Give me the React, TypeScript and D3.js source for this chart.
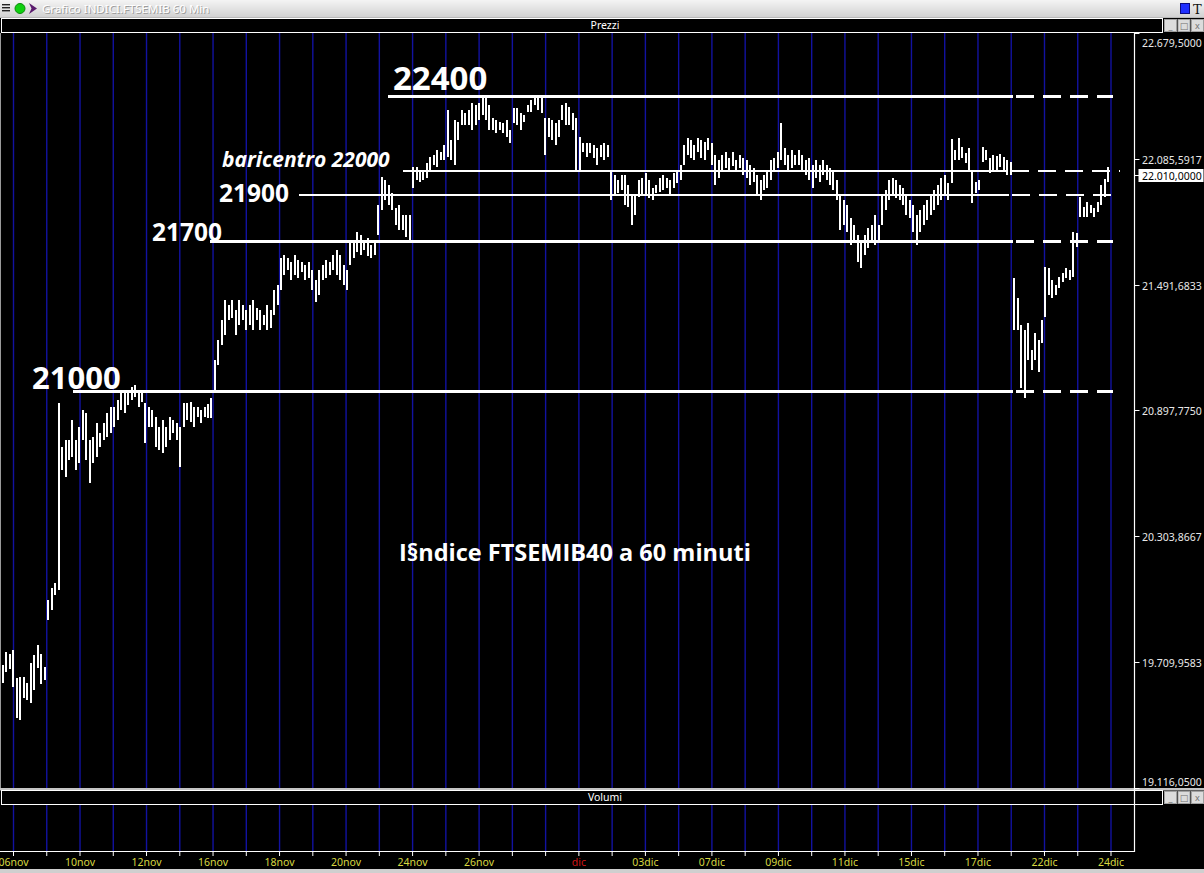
import { useEffect, useRef } from "react";
import * as d3 from "d3";

const W = 1204;
const H = 873;

// barre orarie: [massimo, minimo]
const bars: [number, number][] = [
  [19696, 19611], [19758, 19663], [19748, 19677], [19767, 19592], [19635, 19446], [19640, 19437], [19640, 19540], [19611, 19531],
  [19706, 19517], [19743, 19578], [19791, 19682], [19748, 19607], [19687, 19625], [20003, 19909], [20060, 19956], [20083, 20027],
  [20933, 20050],
  [20725, 20617], [20758, 20584], [20758, 20664], [20853, 20678], [20758, 20617], [20820, 20650], [20900, 20758], [20886, 20664],
  [20758, 20555], [20772, 20650], [20838, 20678], [20791, 20725], [20838, 20758], [20886, 20772], [20914, 20791], [20914, 20820],
  [20947, 20853], [20980, 20900], [20980, 20886], [20994, 20923], [21008, 20947], [21018, 20961], [20994, 20914], [20985, 20938],
  [20933, 20744], [20914, 20820], [20900, 20820], [20867, 20725], [20820, 20711], [20853, 20697], [20820, 20725], [20867, 20758],
  [20853, 20791], [20838, 20758], [20820, 20631], [20933, 20820], [20933, 20853], [20938, 20843], [20914, 20820], [20914, 20867],
  [20900, 20838], [20914, 20867], [20928, 20862], [20956, 20862], [21136, 20985],
  [21230, 21112], [21325, 21207], [21419, 21254], [21395, 21325], [21419, 21334], [21372, 21254], [21419, 21301], [21395, 21325],
  [21372, 21277], [21395, 21301], [21419, 21277], [21381, 21325], [21372, 21277], [21348, 21301], [21395, 21277], [21372, 21287],
  [21466, 21348], [21490, 21395], [21617, 21466], [21631, 21537], [21617, 21561], [21598, 21513], [21631, 21537], [21608, 21523],
  [21598, 21551], [21584, 21513], [21598, 21523], [21561, 21466], [21513, 21410], [21561, 21443], [21584, 21513], [21608, 21523],
  [21598, 21537], [21631, 21561], [21655, 21537], [21631, 21513], [21584, 21490], [21561, 21466], [21702, 21584], [21702, 21617],
  [21740, 21646], [21726, 21631], [21702, 21655], [21712, 21627], [21679, 21617], [21702, 21631], [21867, 21726],
  [22000, 21844], [21985, 21891], [21962, 21867], [21924, 21844], [21853, 21773], [21867, 21749], [21820, 21749], [21820, 21716],
  [21820, 21693], [22047, 21948], [22047, 21985], [22023, 21976], [22023, 21985], [22066, 21995], [22094, 22023], [22103, 22056],
  [22127, 22047], [22118, 22080], [22151, 22080], [22316, 22094], [22174, 22080], [22269, 22056], [22259, 22174],
  [22316, 22245], [22302, 22245], [22316, 22245], [22349, 22221], [22339, 22245], [22349, 22269], [22377, 22292], [22377, 22269],
  [22339, 22221], [22278, 22221], [22269, 22207],
  [22259, 22221], [22254, 22207], [22269, 22188], [22221, 22160], [22325, 22254], [22325, 22245], [22302, 22221], [22292, 22259],
  [22339, 22306], [22363, 22306], [22377, 22339], [22377, 22316], [22377, 22302], [22278, 22103], [22278, 22188], [22269, 22174],
  [22254, 22151], [22269, 22188], [22339, 22269], [22349, 22245], [22330, 22245], [22302, 22221], [22278, 22033], [22188, 22023],
  [22160, 22118],
  [22160, 22094], [22160, 22113], [22151, 22089], [22136, 22056], [22151, 22094], [22160, 22080], [22151, 22094], [22033, 21891],
  [22009, 21915], [21985, 21924], [22009, 21938], [22009, 21867], [21962, 21858], [21915, 21773], [21915, 21820], [21985, 21905],
  [21995, 21915], [22018, 21915], [21985, 21900], [21948, 21891], [21962, 21924], [21995, 21929], [22009, 21938], [21995, 21948],
  [21985, 21915], [22018, 21948], [22023, 21971], [22056, 21985], [22151, 22056],
  [22184, 22103], [22174, 22089], [22151, 22080], [22184, 22118], [22174, 22089], [22165, 22080], [22184, 22127], [22160, 22056],
  [22103, 21962], [22080, 21995], [22103, 22033], [22118, 22042], [22089, 22033], [22118, 22051], [22080, 22023], [22103, 22042],
  [22089, 22009], [22080, 21995], [22056, 21962], [22042, 21976], [22009, 21915], [21985, 21891], [22009, 21938], [22033, 21948],
  [22080, 21985], [22089, 22023], [22118, 22042], [22254, 22080], [22136, 22056], [22103, 22023], [22127, 22042], [22103, 22056],
  [22127, 22056], [22103, 22023], [22080, 22009], [22089, 21985], [22056, 21948], [22080, 21995], [22056, 21976], [22080, 22009],
  [22056, 21985], [22042, 21962], [22033, 21938], [21985, 21891], [21915, 21749], [21891, 21773], [21867, 21740], [21806, 21679],
  [21773, 21702], [21726, 21598], [21702, 21570], [21726, 21631], [21759, 21664], [21773, 21702], [21820, 21679], [21773, 21693],
  [21915, 21773], [21938, 21844], [21985, 21891], [21995, 21915], [21985, 21900], [21962, 21891], [21948, 21867], [21915, 21820],
  [21891, 21806], [21867, 21740], [21820, 21679], [21844, 21740], [21867, 21773], [21891, 21797], [21915, 21820], [21938, 21844],
  [21962, 21867], [21995, 21891], [22009, 21915], [21971, 21891], [22179, 21971], [22127, 22080], [22184, 22080], [22141, 22089],
  [22113, 22066], [22136, 22033], [22023, 21877], [21976, 21924], [21985, 21938], [22141, 22070], [22127, 22080], [22089, 22018],
  [22103, 22023], [22099, 22033], [22108, 22047], [22094, 22033], [22080, 22009], [22070, 22009],
  [21523, 21277], [21428, 21277], [21301, 21004], [21277, 20956], [21310, 21136], [21183, 21089], [21263, 21136], [21230, 21079],
  [21325, 21216], [21575, 21339], [21570, 21443], [21513, 21428], [21490, 21443], [21528, 21476], [21546, 21504], [21570, 21523],
  [21561, 21513], [21740, 21528], [21735, 21669], [21905, 21811], [21858, 21811], [21882, 21811], [21867, 21830], [21853, 21811],
  [21882, 21834], [21962, 21867], [21990, 21905], [22047, 21976],
];

const priceTicks = [22679.5, 22085.5917, 21491.6833, 20897.775, 20303.8667, 19709.9583, 19116.05];
const lastPrice = 22010;

const dayCount = 34;
const dayLabels: [number, string][] = [
  [0, "06nov"], [2, "10nov"], [4, "12nov"], [6, "16nov"], [8, "18nov"], [10, "20nov"], [12, "24nov"], [14, "26nov"],
  [17, "dic"], [19, "03dic"], [21, "07dic"], [23, "09dic"], [25, "11dic"], [27, "15dic"], [29, "17dic"], [31, "22dic"],
  [33, "24dic"],
];

// livelli tracciati a mano (prezzo, giorno di inizio, fine tratto pieno, fine tratteggio)
const levels = [
  { price: 22382, from: 11.25, solidTo: 30.05, to: 33.05, width: 3 },
  { price: 22028, from: 11.7, solidTo: 29.9, to: 33.26, width: 2.3 },
  { price: 21915, from: 8.57, solidTo: 29.92, to: 33.0, width: 2.6 },
  { price: 21700, from: 5.92, solidTo: 30.05, to: 33.05, width: 3 },
  { price: 20990, from: 1.8, solidTo: 30.05, to: 33.05, width: 3 },
];

const notes = [
  { text: "22400", x: 393, y: 90, size: 33, italic: false },
  { text: "baricentro 22000", x: 222, y: 167, size: 21, italic: true },
  { text: "21900", x: 219, y: 202, size: 24.5, italic: false },
  { text: "21700", x: 152, y: 241, size: 24.5, italic: false },
  { text: "21000", x: 32, y: 389, size: 31, italic: false },
  { text: "I§ndice FTSEMIB40 a 60 minuti", x: 399, y: 561, size: 23.5, italic: false },
];

const title = "Grafico INDICI.FTSEMIB 60 Min";

const itLocale = d3.formatLocale({ decimal: ",", thousands: ".", grouping: [3], currency: ["", "€"] });
const fmt = itLocale.format(",.4f");

export default function App() {
  const ref = useRef<SVGSVGElement>(null);

  useEffect(() => {
    document.body.style.margin = "0";
    const svg = d3.select(ref.current);
    if (!svg.node()) return;
    svg.selectAll("*").remove();

    const plotTop = 33;
    const plotBottom = 788;
    const axisX = 1134.5;
    const volTop = 805;
    const volBottom = 852;
    const ui = "Noto Sans, DejaVu Sans, sans-serif";

    const y = d3.scaleLinear().domain([priceTicks[priceTicks.length - 1], priceTicks[0]]).range([plotBottom, plotTop]);
    const x = d3.scaleLinear().domain([0, bars.length - 1]).range([3, 1108]);
    const xd = d3.scaleLinear().domain([0, dayCount - 1]).range([13.5, 1111]);

    const defs = svg.append("defs");
    const g = defs.append("linearGradient").attr("id", "tb").attr("x1", 0).attr("y1", 0).attr("x2", 0).attr("y2", 1);
    g.append("stop").attr("offset", 0).attr("stop-color", "#f4f4f4");
    g.append("stop").attr("offset", 1).attr("stop-color", "#d2d2d2");

    svg.append("rect").attr("width", W).attr("height", H).attr("fill", "#000");

    // barra del titolo
    svg.append("rect").attr("width", W).attr("height", 17).attr("fill", "url(#tb)");
    svg.append("rect").attr("y", 17).attr("width", W).attr("height", 1).attr("fill", "#b8b8b8");
    [4, 7, 10].forEach((yy) =>
      svg.append("rect").attr("x", 2).attr("y", yy).attr("width", 8).attr("height", 1.4).attr("fill", "#222"),
    );
    svg.append("circle").attr("cx", 20).attr("cy", 8.5).attr("r", 5).attr("fill", "#10d010").attr("stroke", "#0a8a0a");
    svg.append("path").attr("d", "M29,3 L37,8.5 L29,14 L31.5,8.5 Z").attr("fill", "#5b1c6e");
    svg.append("text").attr("x", 43).attr("y", 13.5).attr("font-family", ui).attr("font-size", 11.5)
      .attr("fill", "#9c9c9c").text(title);
    svg.append("text").attr("x", 42).attr("y", 12.5).attr("font-family", ui).attr("font-size", 11.5)
      .attr("fill", "#ffffff").text(title);
    svg.append("rect").attr("x", 1180.5).attr("y", 3.5).attr("width", 9).attr("height", 10).attr("fill", "#1f2fff").attr("stroke", "#0a0a80");
    svg.append("text").attr("x", 1193).attr("y", 14).attr("font-family", "DejaVu Serif, serif").attr("font-size", 13)
      .attr("fill", "#111").text("T");

    const panelHeader = (top: number, label: string) => {
      svg.append("rect").attr("x", 1.5).attr("y", top + 0.5).attr("width", 1161).attr("height", 14)
        .attr("fill", "#000").attr("stroke", "#fff");
      svg.append("text").attr("x", 605).attr("y", top + 11).attr("text-anchor", "middle")
        .attr("font-family", ui).attr("font-size", 10.5).attr("fill", "#fff").text(label);
      ["_", "□", "x"].forEach((s, i) => {
        const bx = 1164 + i * 13.5;
        svg.append("rect").attr("x", bx + 0.5).attr("y", top + 1.5).attr("width", 12).attr("height", 12)
          .attr("fill", "#dcdcdc").attr("stroke", "#a0a0a0");
        svg.append("text").attr("x", bx + 6.5).attr("y", top + 11).attr("text-anchor", "middle")
          .attr("font-family", ui).attr("font-size", 9).attr("fill", "#707070").text(s);
      });
    };
    panelHeader(18, "Prezzi");
    svg.append("rect").attr("y", 788).attr("width", W).attr("height", 2.5).attr("fill", "#c4c4c4");
    panelHeader(790, "Volumi");

    // linee verticali giornaliere
    const days = d3.range(dayCount);
    const grid = svg.append("g").attr("stroke", "#1212a0").attr("stroke-width", 1.4);
    grid.selectAll("line.p").data(days).join("line").attr("class", "p")
      .attr("x1", (d) => xd(d)).attr("x2", (d) => xd(d)).attr("y1", plotTop).attr("y2", plotBottom);
    grid.selectAll("line.v").data(days).join("line").attr("class", "v")
      .attr("x1", (d) => xd(d)).attr("x2", (d) => xd(d)).attr("y1", volTop).attr("y2", volBottom);

    svg.append("rect").attr("x", 0).attr("y", plotTop).attr("width", 1).attr("height", plotBottom - plotTop).attr("fill", "#9a9a9a");

    // livelli
    const lv = svg.append("g").attr("stroke", "#fff").attr("shape-rendering", "crispEdges");
    levels.forEach((l) => {
      const yy = Math.round(y(l.price));
      lv.append("line").attr("x1", xd(l.from)).attr("x2", xd(l.solidTo)).attr("y1", yy).attr("y2", yy)
        .attr("stroke-width", l.width);
      lv.append("line").attr("x1", xd(l.solidTo) + 3).attr("x2", xd(l.to)).attr("y1", yy).attr("y2", yy)
        .attr("stroke-width", l.width).attr("stroke-dasharray", "18 9");
    });

    // barre
    svg.append("g").attr("fill", "#fff").attr("shape-rendering", "crispEdges")
      .selectAll("rect").data(bars).join("rect")
      .attr("x", (_, i) => Math.round(x(i)) - 1)
      .attr("width", 2)
      .attr("y", (d) => Math.round(y(d[0])))
      .attr("height", (d) => Math.max(1, Math.round(y(d[1]) - y(d[0]))));

    // testi
    notes.forEach((n) => {
      svg.append("text").attr("x", n.x).attr("y", n.y)
        .attr("font-family", "Open Sans, Noto Sans, sans-serif").attr("font-weight", 700)
        .attr("font-style", n.italic ? "italic" : "normal")
        .attr("font-size", n.size).attr("fill", "#fff").text(n.text);
    });

    // asse dei prezzi
    svg.append("line").attr("x1", axisX).attr("x2", axisX).attr("y1", plotTop).attr("y2", volBottom)
      .attr("stroke", "#fff").attr("stroke-width", 1.2);
    const pa = svg.append("g");
    priceTicks.forEach((t, i) => {
      const yy = Math.round(y(t)) + 0.5;
      pa.append("line").attr("x1", axisX).attr("x2", axisX + 5).attr("y1", yy).attr("y2", yy).attr("stroke", "#fff");
      const off = i === 0 ? 13 : i === priceTicks.length - 1 ? -3 : 4;
      pa.append("text").attr("x", 1142).attr("y", yy + off).attr("font-family", ui).attr("font-size", 10.5)
        .attr("fill", "#e8e8e8").text(fmt(t));
    });
    const ly = Math.round(y(lastPrice)) + 0.5;
    pa.append("line").attr("x1", axisX).attr("x2", axisX + 5).attr("y1", ly).attr("y2", ly).attr("stroke", "#fff");
    pa.append("rect").attr("x", 1138.5).attr("y", ly - 6.5).attr("width", 65).attr("height", 13).attr("fill", "#fff");
    pa.append("text").attr("x", 1142).attr("y", ly + 4).attr("font-family", ui).attr("font-size", 10.5)
      .attr("fill", "#000").text(fmt(lastPrice));

    // asse del tempo
    svg.append("line").attr("x1", 0).attr("x2", axisX).attr("y1", volBottom - 0.5).attr("y2", volBottom - 0.5)
      .attr("stroke", "#fff");
    svg.append("g").attr("stroke", "#fff").selectAll("line").data(days).join("line")
      .attr("x1", (d) => xd(d)).attr("x2", (d) => xd(d)).attr("y1", volBottom).attr("y2", volBottom + 4);
    svg.append("g").selectAll("text").data(dayLabels).join("text")
      .attr("x", (d) => xd(d[0])).attr("y", 866).attr("text-anchor", "middle")
      .attr("font-family", ui).attr("font-size", 10.5)
      .attr("fill", (d) => (d[1] === "dic" ? "#d01414" : "#d8d840"))
      .text((d) => d[1]);

    svg.append("rect").attr("y", 869).attr("width", W).attr("height", 4).attr("fill", "#cfcfcf");
  }, []);

  return (
    <>
      <style>{"body{margin:0}"}</style>
      <svg ref={ref} width={W} height={H} style={{ display: "block" }} />
    </>
  );
}
